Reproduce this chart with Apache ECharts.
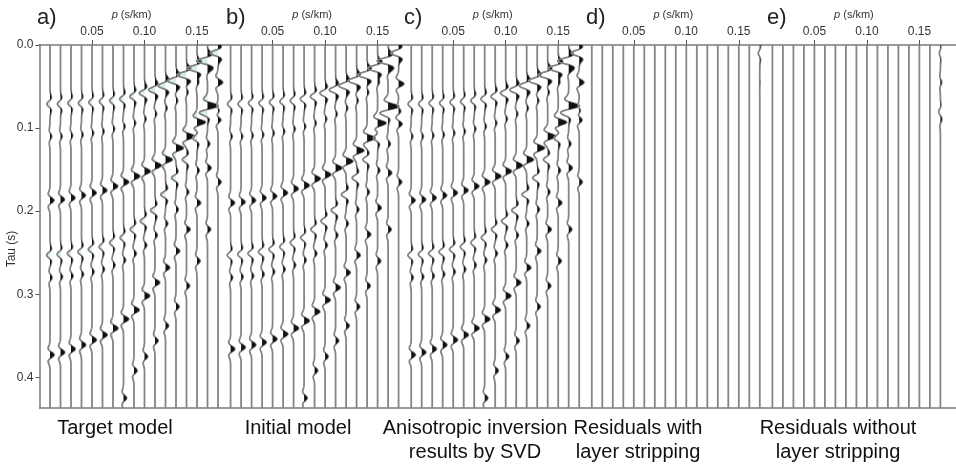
<!DOCTYPE html>
<html>
<head>
<meta charset="utf-8">
<script src="https://cdn.jsdelivr.net/npm/echarts@6/dist/echarts.min.js"></script>
<style>html,body{margin:0;padding:0;background:#fff}#c{width:956px;height:464px}</style>
</head>
<body>
<div id="c"></div>
<script>
// ---------------- DATA ----------------
const P = [0.01,0.02,0.03,0.04,0.05,0.06,0.07,0.08,0.09,0.10,0.11,0.12,0.13,0.14,0.15,0.16,0.17];
const P_TICKS = [0.05, 0.10, 0.15];
const TAU_TICKS = [0.0, 0.1, 0.2, 0.3, 0.4];
const TAU_MAX = 0.437;

// event arrival times (tau, s) per trace
const TAU_E1 = [0.071,0.071,0.070,0.070,0.069,0.068,0.067,0.065,0.062,0.058,0.054,0.049,0.043,0.036,0.028,0.019,0.010];
const TAU_E2 = [0.187,0.186,0.184,0.181,0.178,0.175,0.170,0.165,0.158,0.152,0.145,0.138,0.124,0.110,0.093,0.073,0.045];
const TAU_E3 = [0.373,0.370,0.366,0.361,0.355,0.349,0.341,0.330,0.319,0.302,0.286,0.268,0.248,0.222,0.190,0.148,0.090];
const TAU_E4 = [0.253,0.252,0.251,0.249,0.246,0.243,0.238,0.232,0.222,0.212,0.199,0.180,0.160,0.138,0.112,0.082,0.045];
const TAU_E5 = [0.280,0.279,0.278,0.276,0.273,0.270,0.265,0.259,0.251,0.241,0.229,0.215,0.198,0.177,0.151,0.119,0.080];
const TAU_E6 = [0.110,0.110,0.109,0.108,0.106,0.104,0.101,0.098,0.094,0.089,0.083,0.076,0.067,0.057,0.045,0.030,0.012];
const TAU_E7 = [0.500,0.498,0.494,0.488,0.480,0.470,0.455,0.425,0.392,0.375,0.356,0.338,0.315,0.290,0.260,0.222,0.165];
// initial model (b) times
const TAU_E2_B = [0.190,0.189,0.187,0.184,0.182,0.178,0.173,0.169,0.161,0.156,0.148,0.140,0.127,0.112,0.094,0.074,0.046];
const TAU_E3_B = [0.366,0.364,0.361,0.358,0.354,0.348,0.341,0.332,0.321,0.307,0.292,0.274,0.253,0.228,0.196,0.154,0.095];

// amplitudes (in trace spacings, + = right / black fill)
const AMP_E1 = [-0.3,-0.3,-0.3,-0.3,-0.3,-0.3,-0.32,-0.36,-0.4,-0.5,-0.6,-0.7,-0.8,-0.9,-0.95,-1.0,-0.85];
const AMP_E2 = [0.38,0.38,0.38,0.38,0.4,0.42,0.45,0.5,0.55,0.55,0.6,0.65,0.7,0.75,0.8,0.85,0.85];
const AMP_E3 = [0.4,0.4,0.4,0.4,0.42,0.45,0.48,0.5,0.5,0.5,0.45,0.4,0.35,0.35,0.35,0.35,0.35];
const AMP_E4 = [-0.32,-0.32,-0.35,-0.35,-0.35,-0.32,-0.32,-0.32,-0.36,-0.4,-0.42,-0.45,-0.42,-0.4,-0.4,-0.4,-0.4];
const AMP_E5 = [0.2,0.2,0.2,0.2,0.2,0.2,0.2,0.2,0.22,0.22,0.22,0.22,0.22,0.22,0.22,0.22,0.22];
const AMP_E6 = [0.16,0.16,0.16,0.16,0.16,0.16,0.16,0.16,0.16,0.16,0.16,0.16,0.16,0.16,0.16,0.16,0.16];
const AMP_E7 = [0.3,0.3,0.3,0.3,0.3,0.3,0.3,0.3,0.3,0.3,0.3,0.3,0.3,0.3,0.3,0.3,0.3];
// residuals
const RES_D_E1 = [0,0,0,0,0,0,0,0,0,0,0,0,0,0,0,0,-0.15];
const RES_D_E2 = [0,0,0,0,0,0,0,0,0,0,0,0,0,0,0,0,0.12];
const RES_D_E4 = [0,0,0,0,0,0,0,0,0,0,0,0,0,0,0,0,-0.1];
const RES_E_E1 = [0,0,0,0,0,0,0,0,0,0,0,0,0,0,0,0,-0.1];
const RES_E_E3 = [0,0,0,0,0,0,0,0,0,0,0,0,0,0,0,0,0.1];
const RES_E_E4 = [0,0,0,0,0,0,0,0,0,0,0,0,0,0,0,0,0.12];
const RES_E_E5 = [0,0,0,0,0,0,0,0,0,0,0,0,0,0,0,0,-0.12];

const PANEL_LABELS = ['a)','b)','c)','d)','e)'];
const TITLES = [['Target model'],['Initial model'],['Anisotropic inversion','results by SVD'],['Residuals with','layer stripping'],['Residuals without','layer stripping']];

const PANEL_EVENTS = [
  [[TAU_E1,AMP_E1],[TAU_E2,AMP_E2],[TAU_E3,AMP_E3],[TAU_E4,AMP_E4],[TAU_E5,AMP_E5],[TAU_E6,AMP_E6],[TAU_E7,AMP_E7]],
  [[TAU_E1,AMP_E1],[TAU_E2_B,AMP_E2],[TAU_E3_B,AMP_E3],[TAU_E4,AMP_E4],[TAU_E5,AMP_E5],[TAU_E6,AMP_E6],[TAU_E7,AMP_E7]],
  [[TAU_E1,AMP_E1],[TAU_E2,AMP_E2],[TAU_E3,AMP_E3],[TAU_E4,AMP_E4],[TAU_E5,AMP_E5],[TAU_E6,AMP_E6],[TAU_E7,AMP_E7]],
  [[TAU_E1,RES_D_E1],[TAU_E2,RES_D_E2],[TAU_E4,RES_D_E4]],
  [[TAU_E1,RES_E_E1],[TAU_E3,RES_E_E3],[TAU_E4,RES_E_E4],[TAU_E5,RES_E_E5]]
];

// ---------------- STYLE / LAYOUT ----------------
const FONT = 'Liberation Sans, Arial, sans-serif';
const PX_PER_P = 1050;
const PANEL_LEFT0 = 39.5, PANEL_STEP = 180.6, PANEL_W = [180.6,180.6,180.6,180.6,194];
const GRID_TOP = 45, GRID_H = 363;
const TRACE_SPACING = 0.01;
const WAVELET_W = 0.0065;
const NSAMP = 600;

function ricker(u){ const u2 = u*u; return (1 - 2*u2) * Math.exp(-u2); }

function makeRender(idx){
  return function(params, api){
    const p = api.value(0), j = api.value(1);
    const evs = PANEL_EVENTS[idx];
    const line = [], pos = [api.coord([p,0])], neg = [api.coord([p,0])];
    for (let k = 0; k <= NSAMP; k++){
      const tau = k * TAU_MAX / NSAMP;
      let d = 0;
      for (const ev of evs){
        const a = ev[1][j]; if (!a) continue;
        const u = (tau - ev[0][j]) / WAVELET_W;
        if (Math.abs(u) > 4) continue;
        d += a * ricker(u);
      }
      const dx = d * TRACE_SPACING;
      line.push(api.coord([p + dx, tau]));
      pos.push(api.coord([p + Math.max(dx,0), tau]));
      neg.push(api.coord([p + Math.min(dx,0), tau]));
    }
    pos.push(api.coord([p,TAU_MAX]));
    neg.push(api.coord([p,TAU_MAX]));
    const children = [];
    if (idx === 0) children.push({type:'polygon', shape:{points:neg}, style:{fill:'rgba(120,205,180,0.3)'}});
    children.push({type:'polyline', shape:{points:line}, style:{stroke:'#858585', lineWidth:1.8, fill:null}});
    children.push({type:'polygon', shape:{points:pos}, style:{fill:'#111'}});
    return {type:'group', children};
  };
}

const grids = [], xAxes = [], yAxes = [], series = [], graphics = [];
for (let i = 0; i < 5; i++){
  const left = PANEL_LEFT0 + i*PANEL_STEP;
  const w = PANEL_W[i];
  const pmax = w / PX_PER_P;
  grids.push({left, top:GRID_TOP, width:w, height:GRID_H});
  xAxes.push({
    gridIndex:i, type:'value', position:'top', min:0, max:pmax, interval:0.05,
    axisLine:{show:true, onZero:false, lineStyle:{color:'#7a7a7a', width:1.5}},
    axisTick:{show:true, inside:false, length:5, lineStyle:{color:'#555', width:1}},
    axisLabel:{fontFamily:FONT, fontSize:12, color:'#333', margin:7,
      showMinLabel:false, showMaxLabel:false,
      formatter:v => { const t = P_TICKS.find(x => Math.abs(x - v) < 1e-6); return t === undefined ? '' : t.toFixed(2); }},
    splitLine:{show:false}
  });
  xAxes.push({
    gridIndex:i, type:'value', position:'bottom', min:0, max:pmax,
    axisLine:{show:true, onZero:false, lineStyle:{color:'#7a7a7a', width:1.5}},
    axisTick:{show:false}, axisLabel:{show:false}, splitLine:{show:false}
  });
  yAxes.push({
    gridIndex:i, type:'value', inverse:true, min:0, max:TAU_MAX, interval:0.1, show: i === 0,
    axisLine:{show:true, lineStyle:{color:'#7a7a7a', width:1.5}},
    axisTick:{show:true, length:4, lineStyle:{color:'#555'}},
    axisLabel:{fontFamily:FONT, fontSize:12, color:'#333', margin:6, showMaxLabel:false,
      formatter:v => { const t = TAU_TICKS.find(x => Math.abs(x - v) < 1e-6); return t === undefined ? '' : t.toFixed(1); }},
    splitLine:{show:false}
  });
  series.push({
    type:'custom', xAxisIndex:2*i, yAxisIndex:i, clip:false, silent:true,
    renderItem: makeRender(i),
    data: P.map((p,j) => [p, j])
  });
  const labelX = [37, 226, 404, 586, 767][i];
  graphics.push({type:'text', style:{text:PANEL_LABELS[i], x:labelX, y:18, font:'22px ' + FONT, fill:'#222', verticalAlign:'middle'}});
  graphics.push({type:'text', style:{text:'{i|p} (s/km)', x:left + 92, y:15, align:'center', verticalAlign:'middle',
    fontFamily:FONT, fontSize:11, fill:'#333', rich:{i:{fontStyle:'italic', fontFamily:FONT, fontSize:11, fill:'#333'}}}});
  const titleCX = [115, 298, 475, 638, 838][i];
  TITLES[i].forEach((t,k) => {
    graphics.push({type:'text', style:{text:t, x:titleCX, y:428 + 24*k, align:'center', verticalAlign:'middle', font:'20px ' + FONT, fill:'#111'}});
  });
}
graphics.push({type:'text', x:12, y:249, rotation:Math.PI/2, style:{text:'Tau (s)', x:0, y:0, align:'center', verticalAlign:'middle', font:'12px ' + FONT, fill:'#333'}});

const chart = echarts.init(document.getElementById('c'), null, {renderer:'canvas'});
chart.setOption({animation:false, grid:grids, xAxis:xAxes, yAxis:yAxes, series, graphic:graphics});
</script>
</body>
</html>
